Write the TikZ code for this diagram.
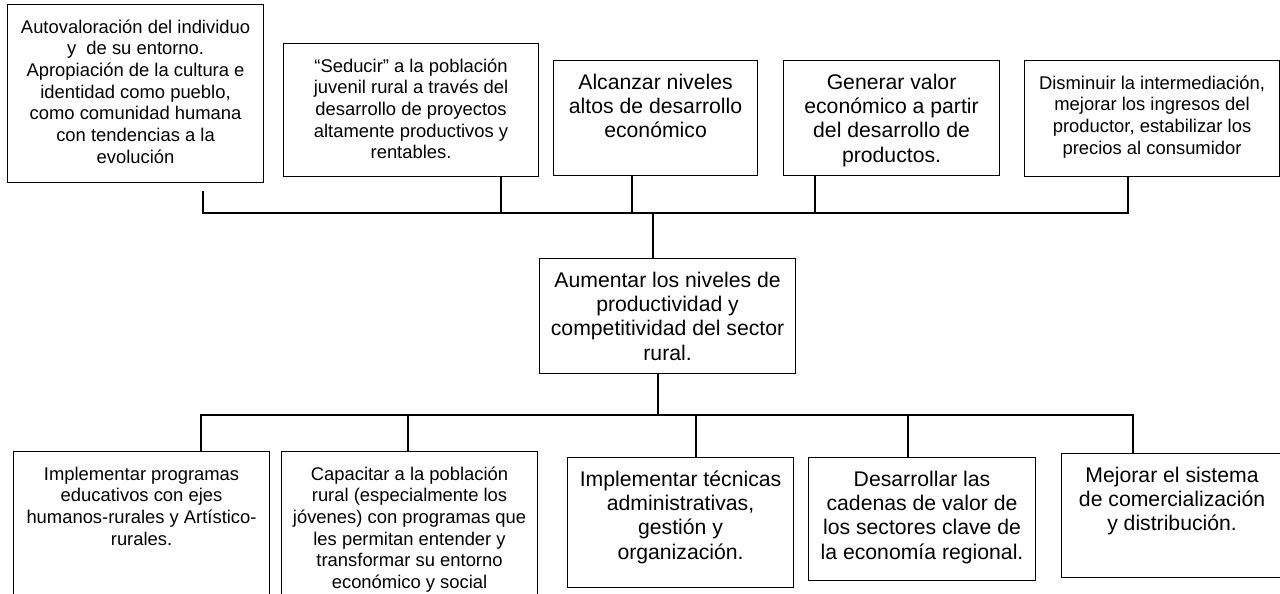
\documentclass[tikz,border=0pt]{standalone}
\usepackage{fontspec}
\setmainfont{Liberation Sans}
\newcommand{\chico}{\fontsize{18.4}{21.7}\selectfont}
\newcommand{\grande}{\fontsize{21.2}{24.4}\selectfont}
\newcommand{\texto}[3]{\parbox[t][#2][t]{#1}{\centering\rule{0pt}{28.5pt}#3}}
\tikzset{caja/.style={draw, line width=1.1pt, inner sep=0pt, anchor=north west}}

\begin{document}
\begin{tikzpicture}[x=1pt, y=-1pt, line width=1.1pt]
    \useasboundingbox (0,0) rectangle (1280,594);
    \clip (0,0) rectangle (1280,594);
    \fill[white] (0,0) rectangle (1280,594);

    \node[caja] (auto) at (7,4) {\texto{256pt}{178pt}{\chico Autovaloración del individuo\\ y\ \ de su entorno.\\ Apropiación de la cultura e\\ identidad como pueblo,\\ como comunidad humana\\ con tendencias a la\\ evolución}};
    \node[caja] (seducir) at (283,43) {\texto{255pt}{133pt}{\chico “Seducir” a la población\\ juvenil rural a través del\\ desarrollo de proyectos\\ altamente productivos y\\ rentables.}};
    \node[caja] (alcanzar) at (553,60) {\texto{204pt}{115pt}{\grande Alcanzar niveles\\ altos de desarrollo\\ económico}};
    \node[caja] (generar) at (783,60) {\texto{216pt}{115pt}{\grande Generar valor\\ económico a partir\\ del desarrollo de\\ productos.}};
    \node[caja] (disminuir) at (1024,60) {\texto{255pt}{116pt}{\chico Disminuir la intermediación,\\ mejorar los ingresos del\\ productor, estabilizar los\\ precios al consumidor}};

    \node[caja] (aumentar) at (539,258) {\texto{256pt}{115pt}{\grande Aumentar los niveles de\\ productividad y\\ competitividad del sector\\ rural.}};

    \node[caja] (programas) at (13,451) {\texto{256pt}{160pt}{\chico Implementar programas\\ educativos con ejes\\ humanos-rurales y Artístico-\\ rurales.}};
    \node[caja] (capacitar) at (281,451) {\texto{256pt}{160pt}{\chico Capacitar a la población\\ rural (especialmente los\\ jóvenes) con programas que\\ les permitan entender y\\ transformar su entorno\\ económico y social}};
    \node[caja] (tecnicas) at (567,457) {\texto{226pt}{130pt}{\grande Implementar técnicas\\ administrativas,\\ gestión y\\ organización.}};
    \node[caja] (cadenas) at (808,457) {\texto{227pt}{123pt}{\grande Desarrollar las\\ cadenas de valor de\\ los sectores clave de\\ la economía regional.}};
    \node[caja] (mejorar) at (1061,453) {\texto{221pt}{124pt}{\grande Mejorar el sistema\\ de comercialización\\ y distribución.}};

    \coordinate (s1) at (203,213);
    \coordinate (s2) at (501,213);
    \coordinate (s3) at (632,213);
    \coordinate (s4) at (815,213);
    \coordinate (s5) at (1128,213);
    \coordinate (sc) at (653,213);
    \draw ([yshift=-8pt]auto.south -| s1) -- (s1) -- (s5) -- (disminuir.south -| s5);
    \draw (seducir.south -| s2) -- (s2);
    \draw (alcanzar.south -| s3) -- (s3);
    \draw (generar.south -| s4) -- (s4);
    \draw (sc) -- (aumentar.north -| sc);

    \coordinate (b1) at (201,415);
    \coordinate (b2) at (408,415);
    \coordinate (b3) at (696,415);
    \coordinate (b4) at (908,415);
    \coordinate (b5) at (1133,415);
    \coordinate (bc) at (658,415);
    \draw (aumentar.south -| bc) -- (bc);
    \draw (programas.north -| b1) -- (b1) -- (b5) -- (mejorar.north -| b5);
    \draw (b2) -- (capacitar.north -| b2);
    \draw (b3) -- (tecnicas.north -| b3);
    \draw (b4) -- (cadenas.north -| b4);
\end{tikzpicture}
\end{document}
